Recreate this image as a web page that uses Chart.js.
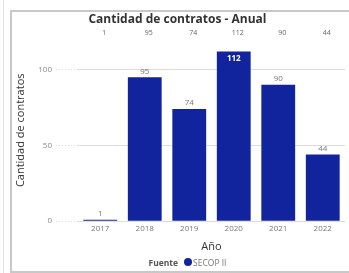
<!DOCTYPE html>
<html>
<head>
<meta charset="utf-8">
<script src="https://cdn.jsdelivr.net/npm/chart.js@4/dist/chart.umd.min.js"></script>
<style>
  html, body { margin: 0; padding: 0; background: #fff; }
  body { width: 349px; height: 273px; position: relative; overflow: hidden; font-family: "Open Sans", sans-serif; }
  #frame { position: absolute; left: 10px; top: 10px; width: 400px; height: 259px; border: 2px solid #c8c8c8; }
  #edge { position: absolute; left: 3px; top: 0; width: 1px; height: 273px; background: #e4e4e4; }
  #wrap { position: absolute; left: 0; top: 0; width: 349px; height: 273px; }
  #legend { position: absolute; top: 257px; left: 0; width: 349px; text-align: center; font-size: 8.5px; color: #777; padding-left: 26px; box-sizing: border-box; }
  #legend b { color: #555; margin-right: 6px; }
  #legend .dot { display: inline-block; width: 8px; height: 8px; border-radius: 50%; vertical-align: 0px; margin-right: 1px; }
</style>
</head>
<body>
<div id="edge"></div>
<div id="frame"></div>
<div id="wrap"><canvas id="chart"></canvas></div>
<div id="legend"><b>Fuente</b><span class="dot"></span>SECOP II</div>
<script>
// Cantidad de contratos por año
const years = ["2017", "2018", "2019", "2020", "2021", "2022"];
const contratos = [1, 95, 74, 112, 90, 44];
const yTicks = [0, 50, 100];
const barColor = "#12239E";
const font = "'Open Sans', sans-serif";

document.querySelector("#legend .dot").style.background = barColor;

const ctx = document.getElementById("chart").getContext("2d");

// labels above bars + the row of totals under the title
const valueLabels = {
  id: "valueLabels",
  afterDatasetsDraw: (chart) => {
    const c = chart.ctx;
    const meta = chart.getDatasetMeta(0);
    const area = chart.chartArea;
    c.save();
    c.textAlign = "center";
    meta.data.forEach((bar, i) => {
      const v = contratos[i];
      if (bar.y - 14 < area.top) {
        c.fillStyle = "#fff";
        c.font = "bold 8px " + font;
        c.textBaseline = "top";
        c.fillText(v, bar.x, bar.y + 3);
      } else {
        c.fillStyle = "#777";
        c.font = "8px " + font;
        c.textBaseline = "bottom";
        c.fillText(v, bar.x, bar.y - 2);
      }
      c.fillStyle = "#666";
      c.font = "7px " + font;
      c.textBaseline = "middle";
      c.fillText(v, bar.x + 4, area.top - 6);
    });
    c.restore();
  },
};

new Chart(ctx, {
  type: "bar",
  data: {
    labels: years,
    datasets: [
      {
        label: "SECOP II",
        data: contratos,
        backgroundColor: barColor,
        barPercentage: 0.76,
        categoryPercentage: 1,
      },
    ],
  },
  options: {
    responsive: true,
    maintainAspectRatio: false,
    animation: false,
    layout: { padding: { left: 10, right: 4, top: 12, bottom: 20 } },
    plugins: {
      legend: { display: false },
      tooltip: { enabled: false },
      title: {
        display: true,
        text: "Cantidad de contratos - Anual",
        color: "#333",
        font: { family: font, size: 12, weight: "bold" },
        padding: { top: 0, bottom: 13 },
      },
    },
    scales: {
      x: {
        grid: { display: false, drawTicks: false },
        border: { display: false },
        ticks: { color: "#777", font: { family: font, size: 8 }, padding: 3 },
        title: {
          display: true,
          text: "Año",
          color: "#333",
          font: { family: font, size: 11 },
          padding: { top: 3, bottom: 0 },
        },
      },
      y: {
        min: 0,
        max: 120,
        afterBuildTicks: (axis) => {
          axis.ticks = yTicks.map((v) => ({ value: v }));
        },
        afterFit: (axis) => {
          axis.width = 68;
        },
        border: { display: false },
        grid: {
          color: "#dcdcdc",
          borderDash: [1, 2],
          tickBorderDash: [1, 2],
          tickLength: 22,
          drawTicks: true,
        },
        ticks: { color: "#888", font: { family: font, size: 8 }, padding: 4 },
        title: {
          display: true,
          text: "Cantidad de contratos",
          color: "#333",
          font: { family: font, size: 11 },
          padding: { top: 4, bottom: 0 },
        },
      },
    },
  },
  plugins: [valueLabels],
});
</script>
</body>
</html>
